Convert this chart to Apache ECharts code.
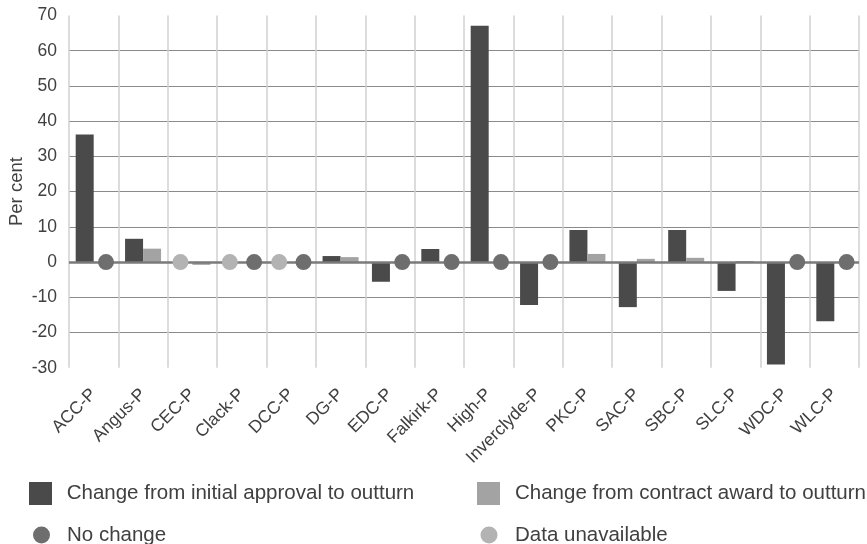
<!DOCTYPE html>
<html>
<head>
<meta charset="utf-8">
<script src="https://cdn.jsdelivr.net/npm/echarts@6/dist/echarts.min.js"></script>
<style>
html,body{margin:0;padding:0;background:#fff;}
#chart{width:867px;height:544px;}
</style>
</head>
<body>
<div id="chart"></div>
<script>
const categories = ['ACC-P','Angus-P','CEC-P','Clack-P','DCC-P','DG-P','EDC-P','Falkirk-P','High-P','Inverclyde-P','PKC-P','SAC-P','SBC-P','SLC-P','WDC-P','WLC-P'];
const initialToOutturn = [36.2, 6.6, null, null, null, 1.7, -5.6, 3.7, 67.1, -12.2, 9.1, -12.8, 9.1, -8.2, -29.1, -16.8];
const contractToOutturn = [null, 3.8, -0.8, null, null, 1.4, null, null, null, null, 2.3, 0.9, 1.2, 0.3, null, null];
const noChange = [0, null, null, 0, 0, null, 0, 0, 0, 0, null, null, null, null, 0, 0];
const dataUnavailable = [null, null, 0, 0, 0, null, null, null, null, null, null, null, null, null, null, null];
const yMin = -30, yMax = 70, yStep = 10;
const seriesNames = ['Change from initial approval to outturn','Change from contract award to outturn','No change','Data unavailable'];

const FONT = "'Liberation Sans', Arial, sans-serif";
const chart = echarts.init(document.getElementById('chart'), null, {renderer:'canvas'});

function legendAt(name, left, top, size, icon, pad){
  return {
    data:[{name:name, icon:icon}],
    left:left, top:top, itemWidth:size, itemHeight:size,
    selectedMode:false, padding:0,
    textStyle:{fontFamily:FONT, fontSize:20.5, color:'#404040', padding:[0,0,0,pad]}
  };
}

chart.setOption({
  animation:false,
  backgroundColor:'#ffffff',
  grid:{left:69, right:8, top:15.5, bottom:176.3, containLabel:false, outerBoundsMode:'none'},
  legend:[
    legendAt(seriesNames[0], 29, 482, 23, 'rect', 9.7),
    legendAt(seriesNames[1], 477, 482, 23, 'rect', 10),
    legendAt(seriesNames[2], 33, 524.5, 17, 'circle', 12),
    legendAt(seriesNames[3], 480.5, 524.5, 17, 'circle', 12.5)
  ],
  xAxis:{
    type:'category', data:categories, position:'bottom',
    axisLine:{show:false, onZero:false},
    axisTick:{show:false},
    splitLine:{show:true, lineStyle:{color:'#d0d0d0', width:1.5}},
    axisLabel:{rotate:45, margin:24, fontFamily:FONT, fontSize:17.5, color:'#404040', interval:0}
  },
  yAxis:{
    type:'value', min:yMin, max:yMax, interval:yStep,
    name:'Per cent', nameLocation:'middle', nameGap:43, nameMoveOverlap:false,
    nameTextStyle:{fontFamily:FONT, fontSize:18.5, color:'#404040'},
    axisLine:{show:false}, axisTick:{show:false},
    axisLabel:{margin:12, fontFamily:FONT, fontSize:17.5, color:'#404040'},
    splitLine:{show:true, showMinLine:false, showMaxLine:false, lineStyle:{color:'#8a8a8a', width:1.2}}
  },
  series:[
    {
      name:seriesNames[0], type:'bar', data:initialToOutturn, barWidth:18, barGap:'0%',
      itemStyle:{color:'#4a4a4a'},
      markLine:{silent:true, symbol:'none', label:{show:false}, z:3,
        lineStyle:{color:'#7a7a7a', width:2.5, type:'solid'}, data:[{yAxis:0}]}
    },
    {
      name:seriesNames[1], type:'bar', data:contractToOutturn, barWidth:18, barGap:'0%',
      itemStyle:{color:'#a3a3a3'}
    },
    {
      name:seriesNames[2], type:'scatter', data:noChange, symbol:'circle', symbolSize:16,
      symbolOffset:[12.3,0], z:5, itemStyle:{color:'#6e6e6e', opacity:1}
    },
    {
      name:seriesNames[3], type:'scatter', data:dataUnavailable, symbol:'circle', symbolSize:16,
      symbolOffset:[-12,0], z:5, itemStyle:{color:'#b3b3b3', opacity:1}
    }
  ]
});
</script>
</body>
</html>
